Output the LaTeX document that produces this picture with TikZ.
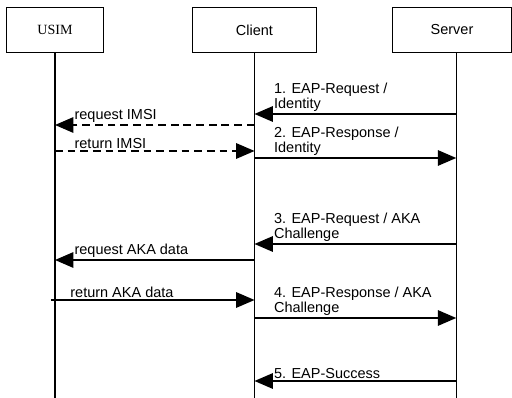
\documentclass[tikz,border=0pt]{standalone}
\usepackage{fontspec}
\setmainfont{Liberation Sans}
\newfontfamily\usimfont{Liberation Serif}
\usepackage{tikz}
\usetikzlibrary{arrows.meta}

\tikzset{
  entity/.style={draw, line width=0.7pt, minimum height=1.1cm, inner sep=0pt,
    font=\fontsize{10.3}{12}\selectfont},
  life/.style={line width=1pt},
  msg/.style={line width=0.9pt, -{Triangle[length=13pt,width=11pt]}},
  dashmsg/.style={msg, dash pattern=on 5.5pt off 3.5pt},
  msglabel/.style={anchor=south west, inner sep=0pt, align=left,
    xshift=13.5pt, yshift=1.5pt, font=\fontsize{10.3}{10.6}\selectfont}
}

\begin{document}
\begin{tikzpicture}[x=0.025cm, y=-0.025cm]
\useasboundingbox (0,0) rectangle (512,398);

% the three parties
\node[
      entity,
      minimum width=2.425cm,
      font=\usimfont\fontsize{10}{12}\selectfont
] (usim) at (55,30) {USIM};
\node[
      entity,
      minimum width=3.075cm
] (client) at (254.5,30) {Client};
\node[
      entity,
      minimum width=2.975cm
] (server) at (452,30) {Server};

% lifelines
\draw[life] (usim.south) -- (usim |- 0,398);
\draw[life] (client.south) -- (client |- 0,398);
\draw[life] ([xshift=3pt]server.south) -- ([xshift=3pt]server |- 0,398);

% identity exchange
\draw[msg] ([xshift=3pt]server |- 0,114) -- node[msglabel, pos=1] (m1) {1. EAP-Request /\\Identity} (client |- 0,114);
\draw[dashmsg] (client |- 0,125) -- node[msglabel, pos=1] (r1) {request IMSI} (usim |- 0,125);
\draw[dashmsg] (usim |- 0,151) -- node[msglabel, pos=0] (r2) {return IMSI} (client |- 0,151);
\draw[msg] (client |- 0,158) -- node[msglabel, pos=0] (m2) {2. EAP-Response /\\Identity} ([xshift=3pt]server |- 0,158);

% AKA challenge
\draw[msg] ([xshift=3pt]server |- 0,244) -- node[msglabel, pos=1] (m3) {3. EAP-Request / AKA\\Challenge} (client |- 0,244);
\draw[msg] (client |- 0,260) -- node[msglabel, pos=1] (r3) {request AKA data} (usim |- 0,260);
\draw[msg] ([xshift=-3pt]usim |- 0,300) -- node[msglabel, pos=0] (r4) {return AKA data} (client |- 0,300);
\draw[msg] (client |- 0,318) -- node[msglabel, pos=0] (m4) {4. EAP-Response / AKA\\Challenge} ([xshift=3pt]server |- 0,318);

% done
\draw[msg] ([xshift=3pt]server |- 0,381) -- node[msglabel, pos=1] (m5) {5. EAP-Success} (client |- 0,381);
\end{tikzpicture}
\end{document}
